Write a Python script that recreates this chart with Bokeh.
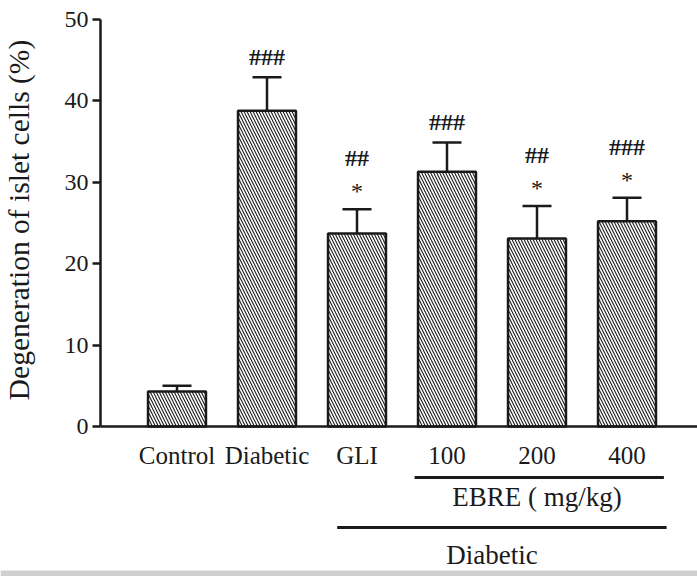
import math
from bokeh.plotting import figure
from bokeh.models import Range1d, FixedTicker, Whisker, TeeHead, ColumnDataSource, BoxAnnotation
from bokeh.core.properties import value
from bokeh.embed import file_html
from bokeh.resources import INLINE

# ---- data ----
categories = ["Control", "Diabetic", "GLI", "100", "200", "400"]
means = [4.3, 38.8, 23.7, 31.3, 23.1, 25.2]
errors = [0.7, 4.1, 3.0, 3.6, 4.0, 2.9]
hash_marks = ["", "###", "##", "###", "##", "###"]
star_marks = ["", "", "*", "", "*", "*"]
y_ticks = [0, 10, 20, 30, 40, 50]
y_label = "Degeneration of islet cells (%)"
group_names = ["EBRE ( mg/kg)", "Diabetic"]
group_first = ["100", "GLI"]
group_last = ["400", "400"]

# ---- layout / style ----
FONT = "Liberation Serif"
INK = "#1a1a1a"
LW = 2.5
W, H = 697, 576
PX_PER_CAT = 90.0          # horizontal pixels per category
FIRST_CAT_PX = 176.5       # screen x of the first category centre
YAXIS_PX = 100.0           # screen x of the y axis
PX_PER_UNIT = 8.14         # vertical pixels per % unit
ZERO_PX = 426.0            # screen y of value 0

x_start = -FIRST_CAT_PX / PX_PER_CAT
x_end = x_start + W / PX_PER_CAT
y_axis_loc = (YAXIS_PX - FIRST_CAT_PX) / PX_PER_CAT
y_end = ZERO_PX / PX_PER_UNIT
y_start = -(H - ZERO_PX) / PX_PER_UNIT

def px_to_y(py):
    return (ZERO_PX - py) / PX_PER_UNIT

xs = list(range(len(categories)))
uppers = [m + e for m, e in zip(means, errors)]

p = figure(width=W, height=H, output_backend="svg", toolbar_location=None,
           x_range=Range1d(x_start, x_end), y_range=Range1d(y_start, y_end),
           min_border_left=0, min_border_right=0, min_border_top=0, min_border_bottom=0)
p.outline_line_color = None
p.xgrid.visible = False
p.ygrid.visible = False
p.background_fill_color = "white"
p.border_fill_color = "white"

# thin grey strip along the bottom edge of the source image
p.add_layout(BoxAnnotation(bottom=y_start, top=px_to_y(570), fill_color="#cfcfcf",
                           fill_alpha=1.0, line_color=None, level="underlay"))

# axes (drawn inside the frame at fixed locations)
yax = p.yaxis[0]
yax.fixed_location = y_axis_loc
yax.bounds = (y_ticks[0], y_ticks[-1])
yax.ticker = FixedTicker(ticks=y_ticks)
yax.axis_line_width = LW
yax.axis_line_color = INK
yax.major_tick_line_width = LW
yax.major_tick_line_color = INK
yax.major_tick_out = 8
yax.major_tick_in = 0
yax.minor_tick_line_color = None
yax.major_label_text_font = FONT
yax.major_label_text_font_size = "24px"
yax.major_label_text_color = INK
yax.major_label_standoff = 4

xax = p.xaxis[0]
xax.fixed_location = 0
xax.bounds = (y_axis_loc, x_end)
xax.ticker = FixedTicker(ticks=xs)
xax.major_label_overrides = {i: c for i, c in zip(xs, categories)}
xax.axis_line_width = LW
xax.axis_line_color = INK
xax.major_tick_out = 0
xax.major_tick_in = 0
xax.major_tick_line_color = None
xax.minor_tick_line_color = None
xax.major_label_text_font = FONT
xax.major_label_text_font_size = "25px"
xax.major_label_text_color = INK
xax.major_label_standoff = 15

# bars
p.vbar(x=xs, top=means, bottom=0, width=0.644, fill_color="white",
       line_color=INK, line_width=LW, hatch_pattern="\\", hatch_scale=6,
       hatch_weight=1.1, hatch_color=INK)

# error bars (upper only)
src = ColumnDataSource(dict(x=xs, lower=means, upper=uppers))
w = Whisker(source=src, base="x", lower="lower", upper="upper", dimension="height",
            lower_head=None, upper_head=TeeHead(size=29, line_width=LW, line_color=INK),
            line_width=LW, line_color=INK, level="overlay")
p.add_layout(w)

# significance marks
p.text(x=xs, y=uppers, text=star_marks, y_offset=-18, text_align="center",
       text_baseline="middle", text_font=value(FONT), text_font_size="24px", text_color=INK)
hash_off = [-51 if s else -20 for s in star_marks]
p.text(x=xs, y=uppers, text=hash_marks, y_offset=hash_off, text_align="center",
       text_baseline="middle", text_font=value(FONT), text_font_size="24px",
       text_font_style="bold", text_color=INK)

# group lines and labels
line_px = [477, 527]
text_px = [496, 554]
pad_left = [0.36, 0.22]
pad_right = [0.41, 0.44]
for name, a, b, lp, tp, pl, pr in zip(group_names, group_first, group_last, line_px, text_px, pad_left, pad_right):
    ia, ib = categories.index(a), categories.index(b)
    p.segment(x0=[ia - pl], x1=[ib + pr], y0=[px_to_y(lp)], y1=[px_to_y(lp)],
              line_width=3, line_color=INK)
    p.text(x=[(ia + ib) / 2], y=[px_to_y(tp)], text=[name], text_align="center",
           text_baseline="middle", text_font=value(FONT), text_font_size="27px",
           text_color=INK)

# y axis title, centred on the 0-50 span
p.text(x=[y_axis_loc], y=[(y_ticks[0] + y_ticks[-1]) / 2], text=[y_label], x_offset=-82,
       y_offset=-3, angle=math.pi / 2, text_align="center", text_baseline="middle",
       text_font=value(FONT), text_font_size="29.5px", text_color=INK)

open("out.html", "w").write(file_html(p, INLINE))
